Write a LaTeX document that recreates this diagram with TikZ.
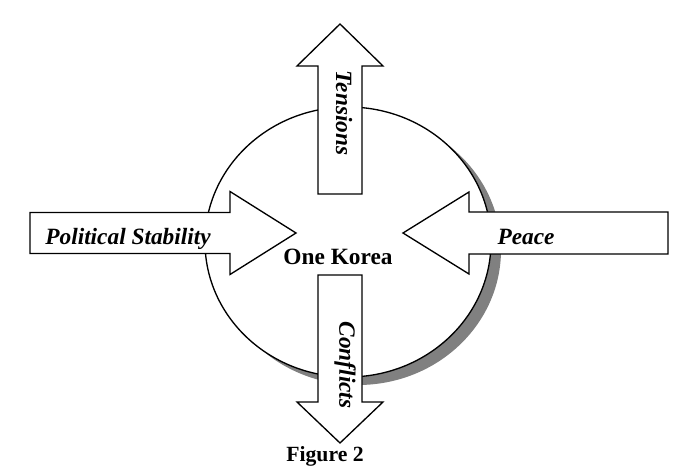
\documentclass[tikz,border=0pt]{standalone}
\usepackage{fontspec}
\setmainfont{Liberation Serif}
\usepackage{tikz}
\usetikzlibrary{calc}

\tikzset{
  blockarrow/.style={draw=black, fill=white, line width=0.8pt, line join=miter},
  arrowlabel/.style={font=\fontsize{14}{16}\selectfont\bfseries\itshape, inner sep=0pt},
  centrelabel/.style={font=\fontsize{14}{16}\selectfont\bfseries, inner sep=0pt}
}

\begin{document}
\begin{tikzpicture}[x=0.6pt, y=-0.6pt]
    \useasboundingbox (0,0) rectangle (688,468);

    % Circle with its grey shadow
    \fill[black!50] (358,250) ellipse (143 and 135);
    \draw[fill=white, line width=0.8pt] (348,242) ellipse (143 and 135);

    % Arrow from the left
    \draw[blockarrow] (30,212.5) -- (230,212.5) -- (230,191.5) -- (296,233)
        -- (230,274.5) -- (230,253.5) -- (30,253.5) -- cycle;
    \node[arrowlabel, anchor=base] (stability) at (128,245) {Political Stability};

    % Arrow from the right
    \draw[blockarrow] (668,212) -- (469,212) -- (469,192) -- (403,233)
        -- (469,274) -- (469,254) -- (668,254) -- cycle;
    \node[arrowlabel, anchor=base] (peace) at (526,245) {Peace};

    % Arrow pointing up
    \draw[blockarrow] (318,194) -- (318,66) -- (297,66) -- (340,24)
        -- (383,66) -- (362,66) -- (362,194) -- cycle;
    \node[arrowlabel, rotate=-90] (tensions) at (344,113) {Tensions};

    % Arrow pointing down
    \draw[blockarrow] (318,275) -- (318,402) -- (297,402) -- (340,443)
        -- (383,402) -- (362,402) -- (362,275) -- cycle;
    \node[arrowlabel, rotate=-90] (conflicts) at (345,365) {Conflicts};

    \node[centrelabel, anchor=base] (korea) at (338,265) {One Korea};

    % Caption under the diagram
    \node[centrelabel, font=\fontsize{13}{15}\selectfont\bfseries, anchor=north]
        (caption) at (325,446) {Figure 2};
\end{tikzpicture}
\end{document}
